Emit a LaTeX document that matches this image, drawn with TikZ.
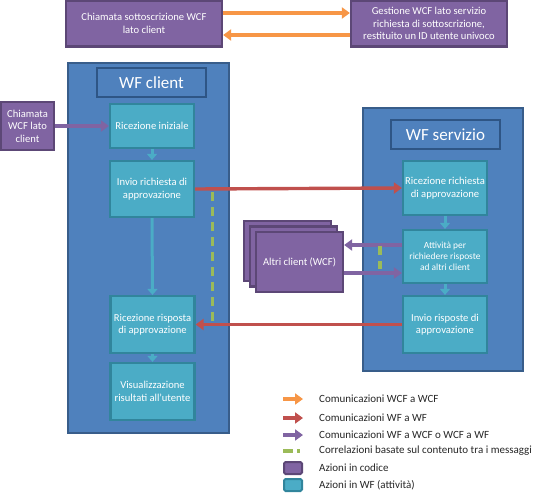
\documentclass[tikz,border=0pt]{standalone}
\usepackage{fontspec}
\setmainfont{Carlito}
\usetikzlibrary{arrows.meta,calc}
\definecolor{pfill}{HTML}{8064A2}
\definecolor{pdraw}{HTML}{5C4776}
\definecolor{bfill}{HTML}{4F81BD}
\definecolor{bdraw}{HTML}{385D8A}
\definecolor{tdraw}{HTML}{2E5585}
\definecolor{afill}{HTML}{4BACC6}
\definecolor{adraw}{HTML}{31859C}
\definecolor{orng}{HTML}{F79646}
\definecolor{redc}{HTML}{C0504D}
\definecolor{grn}{HTML}{9BBB59}
\tikzset{
  pbox/.style={draw=pdraw,fill=pfill,line width=2.2pt,text=white,align=center,font=\fontsize{10.6}{12.5}\selectfont,inner sep=1pt},
  outer/.style={draw=bdraw,fill=bfill,line width=2.2pt},
  titlebox/.style={draw=tdraw,fill=bfill,line width=2.4pt,text=white,font=\fontsize{17}{19}\selectfont},
  actbox/.style={draw=adraw,fill=afill,line width=2.2pt,text=white,align=center,font=\fontsize{10.6}{12.5}\selectfont,inner sep=1pt,minimum width=84pt},
  arr/.style={line width=3.4pt,-{Triangle[width=11pt,length=8pt]}},
  orarr/.style={arr,draw=orng},
  redarr/.style={arr,draw=redc},
  purarr/.style={arr,draw=pfill},
  bluarr/.style={line width=3pt,draw=afill,-{Triangle[width=10pt,length=6pt]}},
  corr/.style={draw=grn,line width=3.2pt,dash pattern=on 9pt off 6pt},
  legsq/.style={line width=2pt,minimum width=18pt,minimum height=12pt,inner sep=0pt,rounded corners=1.5pt},
  legtext/.style={anchor=west,font=\fontsize{11}{13}\selectfont,text=black!85,inner sep=0pt},
}
\begin{document}
\begin{tikzpicture}[x=1pt,y=-1pt]
\useasboundingbox (0,0) rectangle (540,492);
% top boxes
\node[pbox,minimum width=156pt,minimum height=46pt] (topL) at (144,23.5) {Chiamata sottoscrizione WCF\\lato client};
\node[pbox,minimum width=156pt,minimum height=46pt] (topR) at (429,23.5) {Gestione WCF lato servizio\\richiesta di sottoscrizione,\\restituito un ID utente univoco};
\draw[orarr] ([yshift=10.5pt]topL.east) -- ([yshift=10.5pt]topR.west);
\draw[orarr] ([yshift=-11.5pt]topR.west) -- ([yshift=-11.5pt]topL.east);
% WF client
\node[outer,minimum width=161pt,minimum height=370pt] (client) at (148.5,248) {};
\node[titlebox,minimum width=109pt,minimum height=29pt] (ctitle) at (151.5,82.5) {WF client};
\node[actbox,minimum height=44pt] (ricIni) at (152,126) {Ricezione iniziale};
\node[actbox,minimum height=56pt] (invio) at (152,189) {Invio richiesta di\\approvazione};
\node[actbox,minimum height=57pt] (ricRisp) at (152.5,324.5) {Ricezione risposta\\di approvazione};
\node[actbox,minimum height=57pt] (visual) at (152.5,391.5) {Visualizzazione\\risultati all'utente};
\node[pbox,minimum width=53pt,minimum height=48pt] (chiam) at (27.5,126) {Chiamata\\WCF lato\\client};
\draw[purarr] (chiam.east) -- (ricIni.west);
\draw[bluarr] (ricIni.south) -- (invio.north);
\draw[bluarr] (invio.south) -- (ricRisp.north);
\draw[bluarr] (ricRisp.south) -- (visual.north);
% WF servizio
\node[outer,minimum width=160pt,minimum height=263pt] (serv) at (443,239.5) {};
\node[titlebox,minimum width=109pt,minimum height=29pt] (stitle) at (445.5,134.5) {WF servizio};
\node[actbox,minimum height=54pt] (ricRich) at (445,188) {Ricezione richiesta\\di approvazione};
\node[actbox,minimum height=53pt,font=\fontsize{9.4}{11}\selectfont] (attiv) at (445,256.5) {Attività per\\richiedere risposte\\ad altri client};
\node[actbox,minimum height=57pt] (invRisp) at (445,324.5) {Invio risposte di\\approvazione};
\draw[bluarr] (ricRich.south) -- (attiv.north);
\draw[bluarr] (attiv.south) -- (invRisp.north);
% altri client
\node[pbox,minimum width=87pt,minimum height=60pt] (back) at (287.5,251) {};
\node[pbox,minimum width=87pt,minimum height=60pt] (mid) at (293.5,256.5) {};
\node[pbox,minimum width=87pt,minimum height=60pt] (front) at (299.5,262) {Altri client (WCF)};
% WF to WF
\draw[redarr] (invio.east) -- (ricRich.west);
\draw[redarr] (invRisp.west) -- (ricRisp.east);
% WF <-> WCF
\coordinate (a1) at ([yshift=11.5pt]attiv.west);
\coordinate (a2) at ([yshift=-16.5pt]attiv.west);
\draw[purarr] (a1) -- (a1 -| front.east);
\draw[purarr] (a2 -| front.east) -- (a2);
% correlations
\coordinate (g1) at ([xshift=17pt,yshift=-3pt]invio.east);
\coordinate (g2) at (g1 |- ricRisp.east);
\draw[corr] (g1) -- (g2);
\coordinate (h1) at ([xshift=-22pt,yshift=-1pt]a1);
\coordinate (h2) at ([xshift=-22pt,yshift=4pt]a2);
\draw[corr] (h1) -- (h2);
% legend
\coordinate (l1) at (283,399);
\coordinate (l2) at (283,418);
\coordinate (l3) at (283,435);
\coordinate (l4) at (283,451);
\draw[orarr] (l1) -- ++(20,0) coordinate (e1);
\draw[redarr] (l2) -- ++(20,0) coordinate (e2);
\draw[purarr] (l3) -- ++(20,0) coordinate (e3);
\draw[draw=grn,line width=3.2pt,dash pattern=on 10pt off 4pt on 3pt off 20pt] (l4) -- ++(20,0) coordinate (e4);
\node[legsq,draw=pdraw,fill=pfill] (sq1) at (293,468) {};
\node[legsq,draw=adraw,fill=afill] (sq2) at (293,485) {};
\node[legtext] (t1) at (319,399) {Comunicazioni WCF a WCF};
\node[legtext] (t2) at (319,418) {Comunicazioni WF a WF};
\node[legtext] (t3) at (319,435) {Comunicazioni WF a WCF o WCF a WF};
\node[legtext] (t4) at (319,451) {Correlazioni basate sul contenuto tra i messaggi};
\node[legtext] (t5) at (319,468) {Azioni in codice};
\node[legtext] (t6) at (319,485) {Azioni in WF (attività)};
\end{tikzpicture}
\end{document}
